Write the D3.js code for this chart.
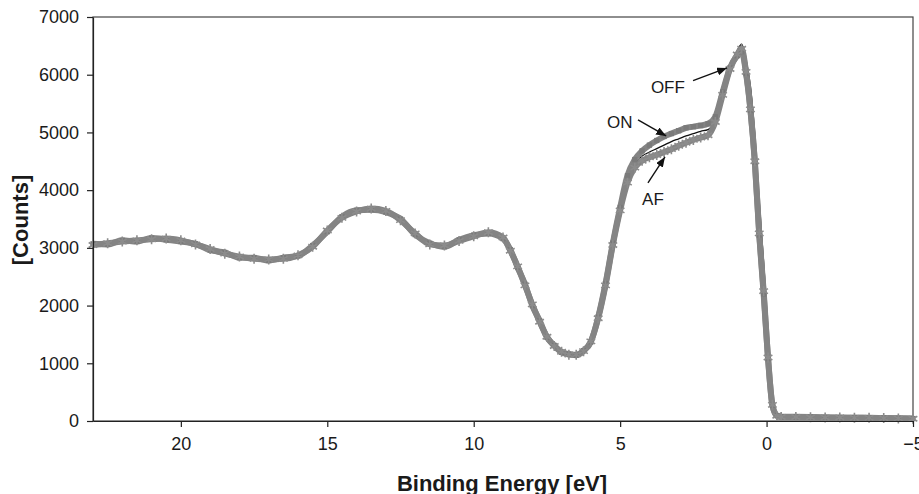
<!DOCTYPE html>
<html>
<head>
<meta charset="utf-8">
<script src="https://cdn.jsdelivr.net/npm/d3@7"></script>
<style>
  body { margin: 0; background: #fff; }
  svg text { font-family: "Liberation Sans", Arial, sans-serif; fill: #1a1a1a; }
</style>
</head>
<body>
<script>
// binding energy grid (eV), shared by the three spectra
var energy = [23,22.5,22,21.5,21,20.5,20,19.5,19,18.5,18,17.5,17,16.5,16,15.5,15,14.5,14,13.5,13,12.5,12,11.5,11,10.5,10,9.5,9,
  8.75,8.5,8.25,8,7.75,7.5,7.25,7,6.75,6.5,6.25,6,5.75,5.5,5.25,5,4.75,4.5,4.25,4,3.75,3.5,3.25,3,2.75,2.5,2.25,2,1.75,1.5,1.25,1,
  0.85,0.7,0.55,0.4,0.25,0.1,-0.05,-0.2,-0.35,-0.5,
  -1,-1.5,-2,-2.5,-3,-3.5,-4,-4.5,-5];

var offCounts = [3060,3090,3100,3140,3150,3150,3120,3050,2990,2890,2840,2800,2790,2820,2880,3030,3290,3530,3640,3690,3630,3490,3240,3070,3030,3130,3210,3260,3170,
  2960,2670,2360,2010,1730,1460,1300,1200,1150,1150,1210,1380,1790,2360,3060,3680,4190,4460,4590,4660,4720,4780,4840,4890,4940,4980,5020,5050,5230,5690,6140,6420,
  6530,6250,5800,4950,3800,2750,1550,500,130,80,
  70,66,61,59,56,54,50,46,41];

var onCounts = [3070,3060,3130,3110,3170,3140,3110,3070,2960,2920,2830,2830,2780,2830,2860,3040,3280,3540,3650,3660,3620,3500,3230,3080,3020,3140,3220,3250,3160,
  2970,2660,2370,2000,1740,1450,1310,1190,1160,1140,1220,1370,1800,2380,3080,3700,4250,4530,4680,4780,4860,4930,4980,5030,5080,5100,5120,5150,5270,5700,6120,6330,
  6400,6020,5380,4480,3220,2200,1080,270,95,75,
  72,68,62,58,57,52,50,47,42];

var afCounts = [3050,3080,3110,3130,3150,3160,3130,3060,2980,2900,2850,2810,2800,2810,2870,3020,3300,3520,3630,3680,3640,3480,3250,3060,3040,3120,3200,3270,3180,
  2950,2680,2350,2020,1720,1460,1300,1200,1150,1150,1210,1380,1780,2350,3050,3650,4130,4390,4510,4570,4610,4660,4710,4770,4820,4870,4910,4950,5180,5650,6100,6350,
  6450,6050,5400,4500,3250,2250,1100,280,90,70,
  70,65,60,60,55,55,50,45,40];

var xTicks = [20, 15, 10, 5, 0, -5];
var yTicks = [0, 1000, 2000, 3000, 4000, 5000, 6000, 7000];

// labels with arrows: text anchor and arrow tail/tip in data units
var labels = [
  {text: "OFF", tx: 3.95, ty: 5683, x1: 2.51, y1: 5897, x2: 1.35, y2: 6117},
  {text: "ON",  tx: 5.45, ty: 5077, x1: 4.39, y1: 5216, x2: 3.43, y2: 4939},
  {text: "AF",  tx: 4.25, ty: 3743, x1: 4.05, y1: 4124, x2: 3.47, y2: 4575}
];

var margin = {top: 17, right: 6, bottom: 73, left: 93};
var width = 919 - margin.left - margin.right;
var height = 494 - margin.top - margin.bottom;

var svg = d3.select("body").append("svg")
    .attr("width", 919)
    .attr("height", 494);

svg.append("defs").append("marker")
    .attr("id", "head")
    .attr("viewBox", "0 0 10 8")
    .attr("refX", 10).attr("refY", 4)
    .attr("markerWidth", 10).attr("markerHeight", 8)
    .attr("markerUnits", "userSpaceOnUse")
    .attr("orient", "auto")
  .append("path")
    .attr("d", "M0,0L10,4L0,8Z")
    .attr("fill", "#111");

var g = svg.append("g")
    .attr("transform", `translate(${margin.left}, ${margin.top})`);

var x = d3.scaleLinear().domain([23, -5]).range([0, width]);
var y = d3.scaleLinear().domain([0, 7000]).range([height, 0]);

// frame
g.append("rect")
    .attr("width", width).attr("height", height)
    .attr("fill", "none").attr("stroke", "#444").attr("stroke-width", 1.2);

function toPts(counts) {
  return energy.map((e, i) => ({e: e, v: counts[i]}));
}
var line = d3.line().x(d => x(d.e)).y(d => y(d.v)).curve(d3.curveMonotoneX);

var plot = g.append("g");

// OFF: thin black line, mostly under the gray markers
plot.append("path")
    .datum(toPts(offCounts))
    .attr("d", line)
    .attr("fill", "none")
    .attr("stroke", "#111")
    .attr("stroke-width", 1.3);

// gray band of the marker series
[onCounts, afCounts].forEach(c => {
  plot.append("path")
      .datum(toPts(c))
      .attr("d", line)
      .attr("fill", "none")
      .attr("stroke", "#848484")
      .attr("stroke-width", 6)
      .attr("stroke-linejoin", "round");
});

// ON: small gray squares
plot.selectAll(".on")
    .data(toPts(onCounts))
  .enter().append("path")
    .attr("class", "on")
    .attr("transform", d => `translate(${x(d.e)},${y(d.v)})`)
    .attr("d", d3.symbol(d3.symbolSquare, 28))
    .attr("fill", "#7a7a7a");

// AF: gray asterisks
plot.selectAll(".af")
    .data(toPts(afCounts))
  .enter().append("path")
    .attr("class", "af")
    .attr("transform", d => `translate(${x(d.e)},${y(d.v)})`)
    .attr("d", d3.symbol(d3.symbolAsterisk, 70))
    .attr("fill", "none")
    .attr("stroke", "#8c8c8c")
    .attr("stroke-width", 1.6);

// axes
var xAxis = d3.axisBottom(x).tickValues(xTicks).tickSize(6).tickSizeOuter(0).tickPadding(10);
var gx = g.append("g")
    .attr("transform", `translate(0, ${height})`)
    .call(xAxis);
gx.selectAll("text").style("font-size", "18px").attr("fill", "#1a1a1a");

var yAxis = d3.axisLeft(y).tickValues(yTicks).tickFormat(d3.format("d"))
    .tickSize(6).tickSizeOuter(0).tickPadding(8);
var gy = g.append("g").call(yAxis);
gy.selectAll("text").style("font-size", "18px").attr("fill", "#1a1a1a");

[gx, gy].forEach(a => {
  a.select(".domain").attr("stroke", "#222").attr("stroke-width", 1.2);
  a.selectAll(".tick line").attr("stroke", "#222").attr("stroke-width", 1.2);
});

// annotations
labels.forEach(l => {
  g.append("text")
      .attr("x", x(l.tx)).attr("y", y(l.ty))
      .style("font-size", "17px")
      .text(l.text);
  g.append("line")
      .attr("x1", x(l.x1)).attr("y1", y(l.y1))
      .attr("x2", x(l.x2)).attr("y2", y(l.y2))
      .attr("stroke", "#111").attr("stroke-width", 1.4)
      .attr("marker-end", "url(#head)");
});

// axis titles
g.append("text")
    .attr("x", 502 - margin.left)
    .attr("y", height + 70)
    .attr("text-anchor", "middle")
    .style("font-size", "22px")
    .style("font-weight", "bold")
    .text("Binding Energy [eV]");

g.append("text")
    .attr("transform", "rotate(-90)")
    .attr("x", -(220 - margin.top))
    .attr("y", -65)
    .attr("text-anchor", "middle")
    .style("font-size", "22px")
    .style("font-weight", "bold")
    .text("[Counts]");
</script>
</body>
</html>
